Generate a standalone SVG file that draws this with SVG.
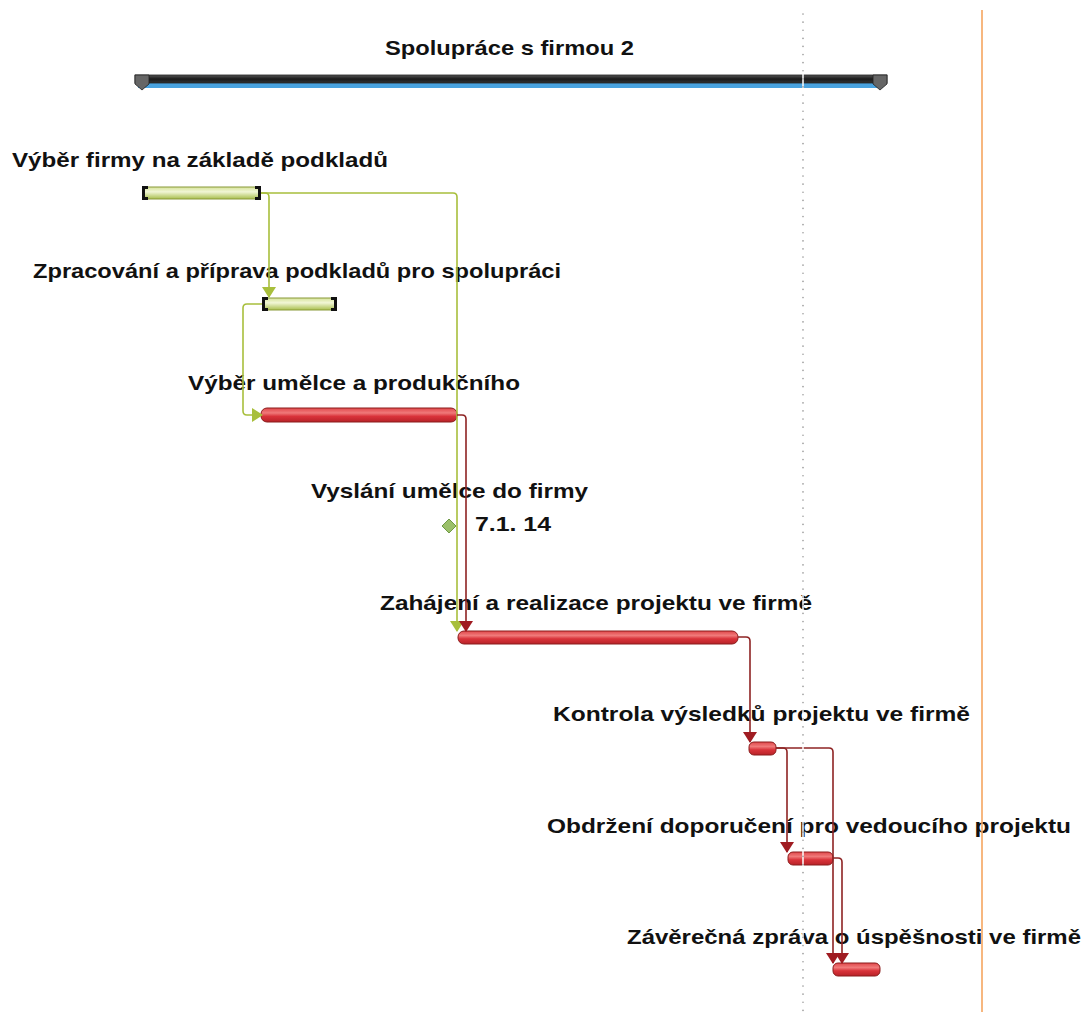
<svg xmlns="http://www.w3.org/2000/svg" width="1087" height="1012" viewBox="0 0 1087 1012">
<style>
text{font-family:"Liberation Sans",Arial,sans-serif;font-weight:bold;font-size:21px;fill:#111}
.g{fill:url(#gg);stroke:#8a9a3a;stroke-width:1}
.r{fill:url(#rg);stroke:#8b1c1c;stroke-width:1}
.br{fill:#111}
.cg{fill:none;stroke:#a8bf3c;stroke-width:1.6}
.cr{fill:none;stroke:#8e2424;stroke-width:1.6}
</style>
<defs>
<linearGradient id="gg" x1="0" y1="0" x2="0" y2="1">
<stop offset="0" stop-color="#d6e39a"/><stop offset="0.4" stop-color="#f1f6d6"/><stop offset="1" stop-color="#a9bf4e"/>
</linearGradient>
<linearGradient id="rg" x1="0" y1="0" x2="0" y2="1">
<stop offset="0" stop-color="#e0474a"/><stop offset="0.35" stop-color="#f07a7a"/><stop offset="0.6" stop-color="#d9333a"/><stop offset="1" stop-color="#b82228"/>
</linearGradient>
<linearGradient id="sg" x1="0" y1="0" x2="0" y2="1">
<stop offset="0" stop-color="#555"/><stop offset="0.5" stop-color="#1a1a1a"/><stop offset="1" stop-color="#333"/>
</linearGradient>
<marker id="ag" markerUnits="userSpaceOnUse" markerWidth="14" markerHeight="16" refX="10" refY="7" orient="auto" viewBox="0 -1 12 16">
<path d="M0,0 L11,7 L0,14 z" fill="#a8bf3c"/>
</marker>
<marker id="ar" markerUnits="userSpaceOnUse" markerWidth="14" markerHeight="16" refX="10" refY="7" orient="auto" viewBox="0 -1 12 16">
<path d="M0,0 L11,7 L0,14 z" fill="#a01c22"/>
</marker>
</defs>
<rect width="1087" height="1012" fill="#fff"/>

<g id="summary">
<text x="385" y="55" textLength="249" lengthAdjust="spacingAndGlyphs">Spolupráce s firmou 2</text>
<rect x="138" y="83" width="745" height="5" fill="#4aa3df"/>
<rect x="135" y="75" width="752" height="8" fill="url(#sg)" stroke="#222" stroke-width="0.8"/>
<path d="M135,75 H149 V84 L142,90 L135,84 z" fill="#666" stroke="#222" stroke-width="0.8"/>
<path d="M873,75 H887 V84 L880,90 L873,84 z" fill="#666" stroke="#222" stroke-width="0.8"/>
</g>

<g id="task1">
<text x="12" y="167" textLength="376" lengthAdjust="spacingAndGlyphs">Výběr firmy na základě podkladů</text>
<rect class="g" x="143" y="187" width="117" height="12"/>
<path class="br" d="M142,186 h6 v3 h-3 v8 h3 v3 h-6 z"/>
<path class="br" d="M261,186 h-6 v3 h3 v8 h-3 v3 h6 z"/>
</g>

<g id="task2">
<text x="33" y="278" textLength="528" lengthAdjust="spacingAndGlyphs">Zpracování a příprava podkladů pro spolupráci</text>
<rect class="g" x="263" y="298" width="73" height="12"/>
<path class="br" d="M262,297 h6 v3 h-3 v8 h3 v3 h-6 z"/>
<path class="br" d="M337,297 h-6 v3 h3 v8 h-3 v3 h6 z"/>
</g>

<g id="task3">
<text x="188" y="390" textLength="332" lengthAdjust="spacingAndGlyphs">Výběr umělce a produkčního</text>
<rect class="r" x="261" y="408" width="196" height="14" rx="6"/>
</g>

<g id="milestone">
<text x="311" y="498" textLength="277" lengthAdjust="spacingAndGlyphs">Vyslání umělce do firmy</text>
<path d="M449,519 L456,526 L449,533 L442,526 z" fill="#9bc06a" stroke="#6f9a45" stroke-width="1"/>
<text x="475" y="531" textLength="76" lengthAdjust="spacingAndGlyphs">7.1. 14</text>
</g>

<g id="task5">
<text x="380" y="610" textLength="432" lengthAdjust="spacingAndGlyphs">Zahájení a realizace projektu ve firmě</text>
<rect class="r" x="458" y="631" width="280" height="13" rx="6"/>
</g>

<g id="task6">
<text x="553" y="721" textLength="417" lengthAdjust="spacingAndGlyphs">Kontrola výsledků projektu ve firmě</text>
<rect class="r" x="749" y="742" width="27" height="13" rx="5"/>
</g>

<g id="task7">
<text x="547" y="833" textLength="524" lengthAdjust="spacingAndGlyphs">Obdržení doporučení pro vedoucího projektu</text>
<rect class="r" x="788" y="852" width="45" height="13" rx="5"/>
</g>

<g id="task8">
<text x="627" y="944" textLength="454" lengthAdjust="spacingAndGlyphs">Závěrečná zpráva o úspěšnosti ve firmě</text>
<rect class="r" x="833" y="963" width="47" height="13" rx="5"/>
</g>

<g id="connectors">
<path class="cg" d="M261,193 H265 Q269,193 269,197 V297" marker-end="url(#ag)"/>
<path class="cg" d="M261,193 H453 Q457,193 457,197 V631" marker-end="url(#ag)"/>
<path class="cg" d="M262,304 H247 Q243,304 243,308 V411 Q243,415 247,415 H262" marker-end="url(#ag)"/>
<path class="cr" d="M457,415 H462 Q466,415 466,419 V631" marker-end="url(#ar)"/>
<path class="cr" d="M738,637 H746 Q750,637 750,641 V742" marker-end="url(#ar)"/>
<path class="cr" d="M776,748 H783 Q787,748 787,752 V852" marker-end="url(#ar)"/>
<path class="cr" d="M776,748 H829 Q833,748 833,752 V963" marker-end="url(#ar)"/>
<path class="cr" d="M833,858 H838 Q842,858 842,862 V963" marker-end="url(#ar)"/>
</g>

<g id="gridlines">
<line x1="803" y1="12" x2="803" y2="1012" stroke="#fff" stroke-width="1.5"/>
<line x1="803" y1="14" x2="803" y2="1012" stroke="#999" stroke-width="1.6" stroke-dasharray="0.1,8" stroke-linecap="round"/>
<line x1="982" y1="10" x2="982" y2="1012" stroke="#f5a55f" stroke-width="1.6"/>
</g>
</svg>
